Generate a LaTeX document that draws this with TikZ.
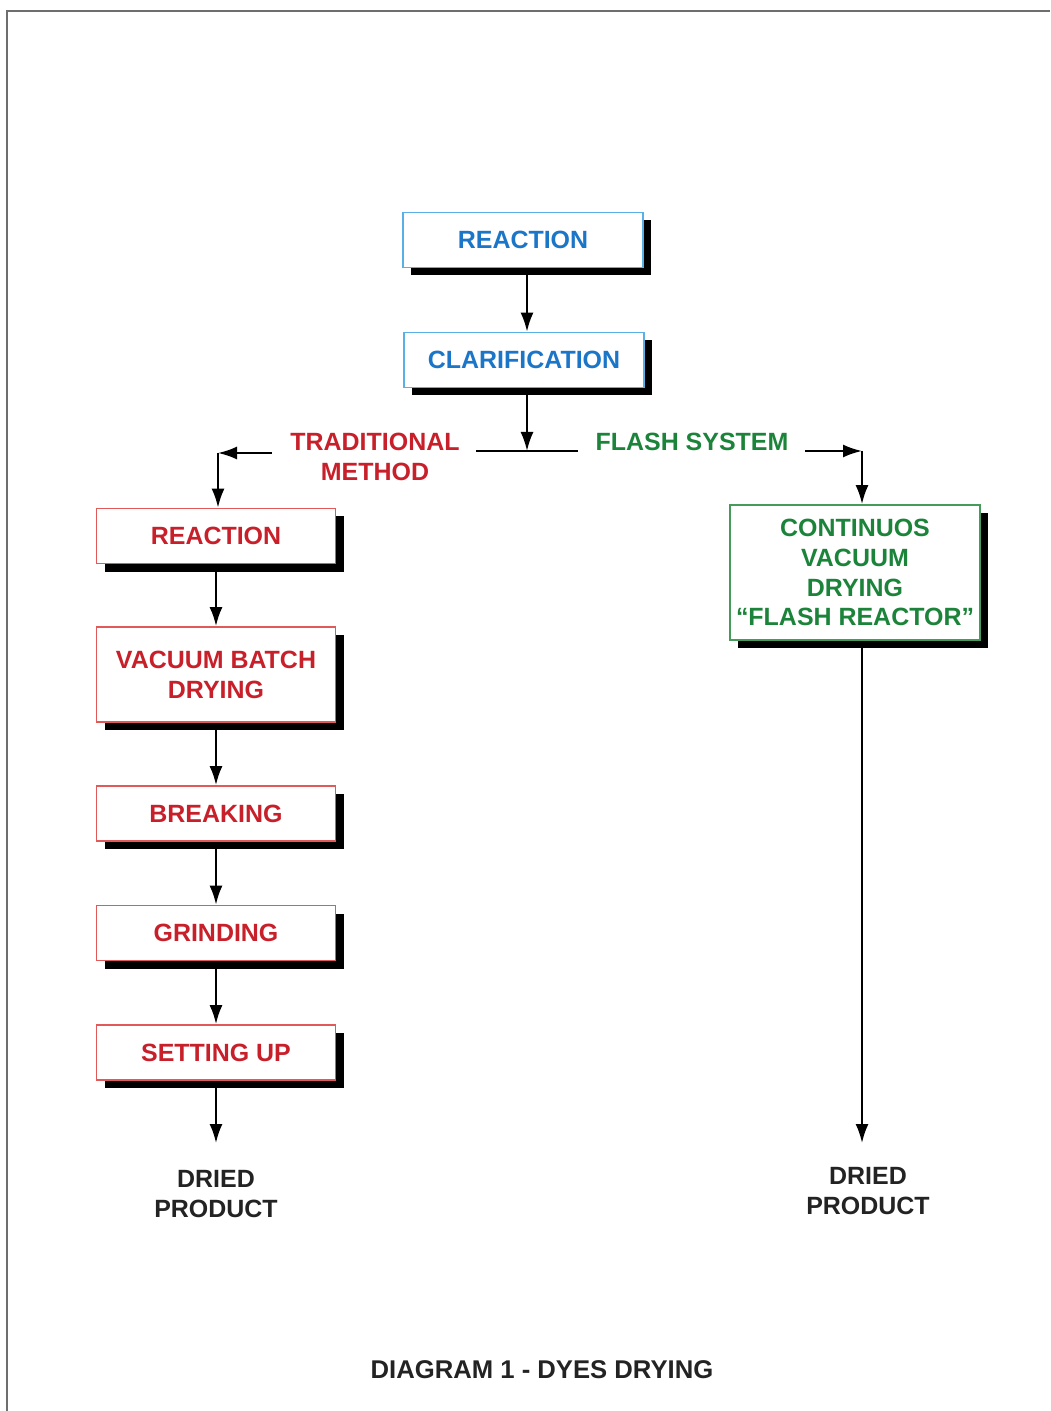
\documentclass[tikz,border=0pt]{standalone}
\usepackage{fontspec}
\setmainfont{Liberation Sans}
\usetikzlibrary{arrows.meta,shadows}
\definecolor{stepblue}{RGB}{28,118,200}
\definecolor{stepred}{RGB}{200,32,42}
\definecolor{stepgreen}{RGB}{28,132,58}
\definecolor{stepink}{RGB}{35,35,35}
\definecolor{edgeblue}{RGB}{90,175,230}
\definecolor{edgered}{RGB}{225,90,90}
\definecolor{edgegreen}{RGB}{70,155,90}
\definecolor{framegray}{RGB}{110,110,110}

\begin{document}
\begin{tikzpicture}[x=0.1mm, y=-0.1mm,
  every node/.style={font=\bfseries\fontsize{7.1}{8.5}\selectfont, align=center, inner sep=0pt},
  stepbox/.style={draw, fill=white, line width=0.5pt, minimum width=23.9mm, minimum height=5.5mm,
                  drop shadow={shadow xshift=0.8mm, shadow yshift=-0.8mm, opacity=1, fill=black}},
  bluebox/.style={stepbox, draw=edgeblue, text=stepblue, minimum width=24mm},
  redbox/.style={stepbox, draw=edgered, text=stepred},
  greenbox/.style={stepbox, draw=edgegreen, text=stepgreen, minimum width=25mm, minimum height=13.5mm},
  arr/.style={-{Latex[length=1.9mm,width=1.3mm]}, line width=0.6pt}]
\useasboundingbox (0,0) rectangle (1050,1411);
\draw [framegray, line width=0.8pt] (7,1411) -- (7,11) -- (1050,11);

\node [bluebox] (react) at (523,240) {REACTION};
\node [bluebox] (clar) at (524,360) {CLARIFICATION};

\coordinate (splitl) at (476,451);
\coordinate (splitr) at (578,451);
\coordinate (split) at (527,451);
\draw [line width=0.6pt] (splitl) -- (splitr);
\draw [arr] (react.south -| split) -- (clar.north -| split);
\draw [arr] (clar.south -| split) -- (split);

\node [text=stepred] (trad) at (375,457) {TRADITIONAL\\METHOD};
\node [text=stepgreen] (flash) at (692,442) {FLASH SYSTEM};

\coordinate (tradstart) at (272,453);
\coordinate (tradturn) at (218,453);
\coordinate (flashstart) at (805,451);
\coordinate (flashturn) at (862,451);

\node [redbox] (lreact) at (216,536) {REACTION};
\node [redbox, minimum height=9.5mm] (vacuum) at (216,674.5) {VACUUM BATCH\\DRYING};
\node [redbox] (breaking) at (216,813.5) {BREAKING};
\node [redbox] (grinding) at (216,933) {GRINDING};
\node [redbox] (setting) at (216,1052.5) {SETTING UP};
\node [text=stepink] (ldried) at (216,1194) {DRIED\\PRODUCT};

\node [greenbox] (flashr) at (855,572.5) {CONTINUOS\\VACUUM\\DRYING\\``FLASH REACTOR''};
\node [text=stepink] (rdried) at (868,1191) {DRIED\\PRODUCT};

\draw [arr] (tradstart) -- (tradturn);
\draw [arr] (tradturn) -- (tradturn |- lreact.north);
\draw [arr] (flashstart) -- (flashturn);
\draw [arr] (flashturn) -- (flashturn |- flashr.north);

\draw [arr] (lreact) -- (vacuum);
\draw [arr] (vacuum) -- (breaking);
\draw [arr] (breaking) -- (grinding);
\draw [arr] (grinding) -- (setting);
\coordinate (lend) at (216,1143);
\draw [arr] (setting) -- (lend);
\coordinate (rend) at (862,1143);
\draw [arr] (flashr.south -| rend) -- (rend);

\node [text=stepink, font=\bfseries\fontsize{7.3}{8.5}\selectfont] (title) at (542,1370) {DIAGRAM 1 - DYES DRYING};
\end{tikzpicture}
\end{document}
